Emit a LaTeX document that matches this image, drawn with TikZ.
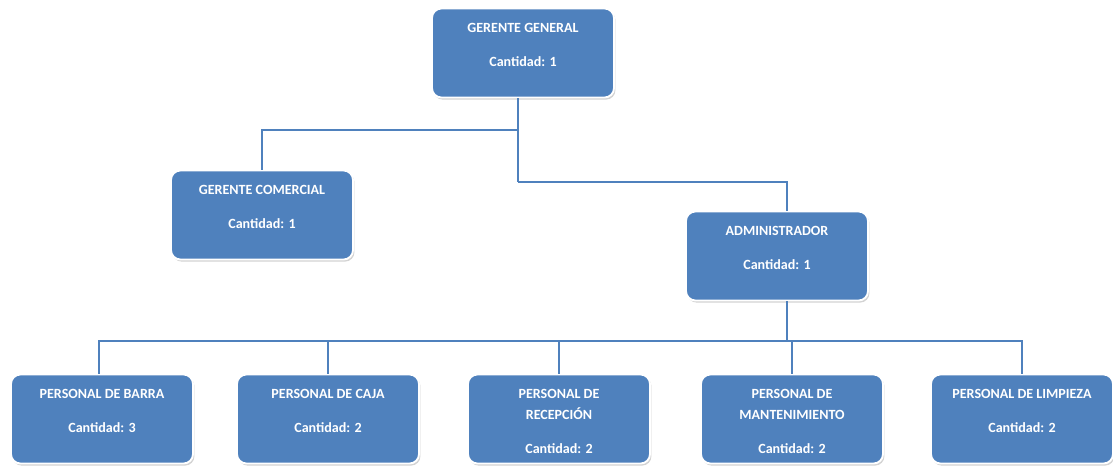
\documentclass[tikz,border=0pt]{standalone}
\usepackage{fontspec}
\setmainfont{Carlito}[BoldFont={Carlito Bold}]
\usetikzlibrary{positioning, shadows, calc}
\definecolor{officeblue}{HTML}{4F81BD}
\tikzset{
  cargo/.style={rectangle, rounded corners=8pt, fill=officeblue, draw=white, line width=1.6pt,
    drop shadow={shadow xshift=1.2pt, shadow yshift=-1.8pt, opacity=0.35},
    minimum width=5.46cm, minimum height=2.67cm, inner sep=0pt, text=white,
    font=\fontsize{12}{18}\selectfont\bfseries},
  conn/.style={draw=officeblue, line width=2.4pt},
}
% box content: title lines on top, quantity below
\newcommand{\cargotxt}[2]{\parbox[c][2.67cm][t]{5.3cm}{\centering\vspace*{0.43cm}#1\\[11pt]Cantidad: #2}}

\begin{document}
\begin{tikzpicture}[x=0.03cm, y=-0.03cm]
\useasboundingbox (0,0) rectangle (1113,465);
% connectors
\coordinate (j1) at (518,130);
\coordinate (j2) at (518,182);
\coordinate (j3) at (787,341);
\node[cargo] (gg) at (523,53) {\cargotxt{GERENTE GENERAL}{1}};
\node[cargo] (gc) at (262,215) {\cargotxt{GERENTE COMERCIAL}{1}};
\node[cargo] (adm) at (777,256) {\cargotxt{ADMINISTRADOR}{1}};
\node[cargo] (barra) at (102,419) {\cargotxt{PERSONAL DE BARRA}{3}};
\node[cargo] (caja) at (328,419) {\cargotxt{PERSONAL DE CAJA}{2}};
\node[cargo] (recep) at (559,419) {\cargotxt{PERSONAL DE\\RECEPCIÓN}{2}};
\node[cargo] (mant) at (792,419) {\cargotxt{PERSONAL DE\\MANTENIMIENTO}{2}};
\node[cargo] (limp) at (1022,419) {\cargotxt{PERSONAL DE LIMPIEZA}{2}};
\draw[conn] (gg.south -| j1) -- (j2);
\draw[conn] (j1) -| (gc.north);
\draw[conn] (j2) -| (adm.north -| j3);
\draw[conn] (adm.south -| j3) -- (j3);
\draw[conn] (barra.north -| 99,0) |- (j3);
\draw[conn] (j3) -| (limp.north);
\draw[conn] (caja.north) -- (caja.north |- j3);
\draw[conn] (recep.north) -- (recep.north |- j3);
\draw[conn] (mant.north) -- (mant.north |- j3);
\end{tikzpicture}
\end{document}
